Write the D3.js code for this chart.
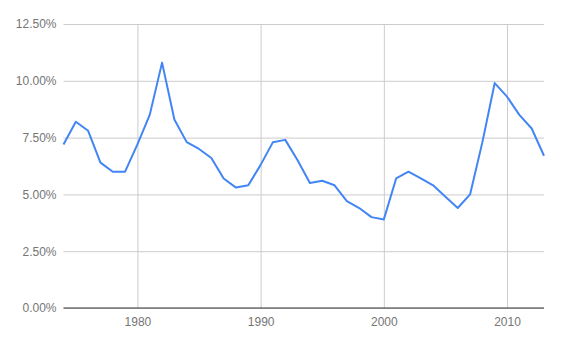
<!DOCTYPE html>
<html>
<head>
<meta charset="utf-8">
<script src="https://cdn.jsdelivr.net/npm/d3@7"></script>
<style>
  body { margin: 0; background: #fff; }
  svg { display: block; font-family: Roboto, Arial, sans-serif; }
  .tick text { fill: #757575; font-size: 12px; }
  .domain { display: none; }
</style>
</head>
<body>
<div id="chart"></div>
<script>
// unemployment rate per year
const years = [1974, 1975, 1976, 1977, 1978, 1979, 1980, 1981, 1982, 1983,
    1984, 1985, 1986, 1987, 1988, 1989, 1990, 1991, 1992, 1993,
    1994, 1995, 1996, 1997, 1998, 1999, 2000, 2001, 2002, 2003,
    2004, 2005, 2006, 2007, 2008, 2009, 2010, 2011, 2012, 2013];
const rates = [7.2, 8.2, 7.8, 6.4, 6.0, 6.0, 7.2, 8.5, 10.8, 8.3,
    7.3, 7.0, 6.6, 5.7, 5.3, 5.4, 6.3, 7.3, 7.4, 6.5,
    5.5, 5.6, 5.4, 4.7, 4.4, 4.0, 3.9, 5.7, 6.0, 5.7,
    5.4, 4.9, 4.4, 5.0, 7.3, 9.9, 9.3, 8.5, 7.9, 6.7];
const yTicks = [0, 2.5, 5, 7.5, 10, 12.5];
const xTicks = [1980, 1990, 2000, 2010];

const width = 562;
const height = 347;
const margin = { top: 24, right: 18, bottom: 39, left: 63.5 };

const svg = d3.select("#chart")
    .append("svg")
    .attr("width", width)
    .attr("height", height);

const x = d3.scaleLinear()
    .domain([1974, 2013])
    .range([margin.left, width - margin.right]);

const y = d3.scaleLinear()
    .domain([0, 12.5])
    .range([height - margin.bottom, margin.top]);

// horizontal grid + labels
const yAxis = svg.append("g")
    .attr("transform", "translate(" + margin.left + ",0)")
    .call(d3.axisLeft(y)
        .tickValues(yTicks)
        .tickSize(-(width - margin.left - margin.right))
        .tickPadding(7)
        .tickFormat(d => d3.format(".2f")(d) + "%"));
yAxis.selectAll(".tick line").attr("stroke", "#cccccc");

// vertical grid + labels
const xAxis = svg.append("g")
    .attr("transform", "translate(0," + (height - margin.bottom) + ")")
    .call(d3.axisBottom(x)
        .tickValues(xTicks)
        .tickSize(-(height - margin.top - margin.bottom))
        .tickPadding(9)
        .tickFormat(d3.format("d")));
xAxis.selectAll(".tick line").attr("stroke", "#cccccc");

// baseline
svg.append("line")
    .attr("x1", margin.left)
    .attr("x2", width - margin.right)
    .attr("y1", y(0))
    .attr("y2", y(0))
    .attr("stroke", "#333333")
    .attr("stroke-width", 1);

const line = d3.line()
    .x((d, i) => x(years[i]))
    .y(d => y(d));

svg.append("path")
    .datum(rates)
    .attr("fill", "none")
    .attr("stroke", "#4285f4")
    .attr("stroke-width", 2)
    .attr("stroke-linejoin", "round")
    .attr("d", line);
</script>
</body>
</html>
